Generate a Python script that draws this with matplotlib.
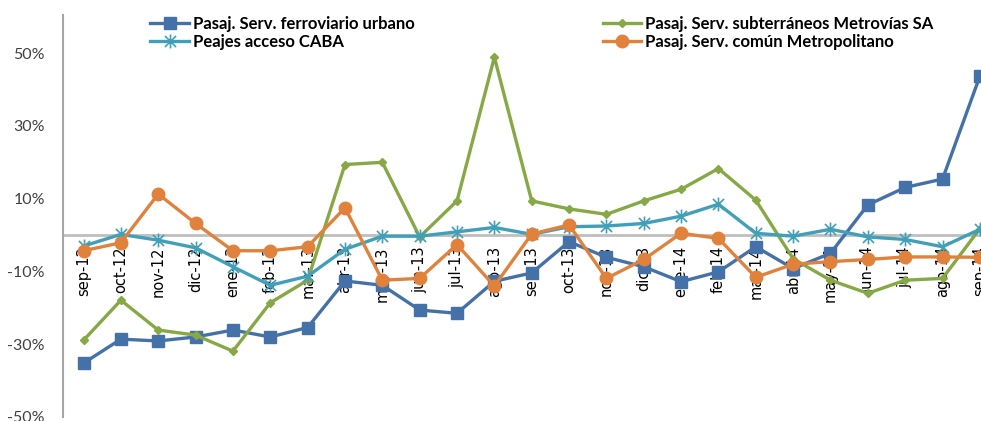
import numpy as np
import matplotlib
matplotlib.use('Agg')
from matplotlib import pyplot as plt
from matplotlib.path import Path

# meses sep-12 .. sep-14
meses = ['sep-12', 'oct-12', 'nov-12', 'dic-12', 'ene-13', 'feb-13', 'mar-13',
         'abr-13', 'may-13', 'jun-13', 'jul-13', 'ago-13', 'sep-13', 'oct-13',
         'nov-13', 'dic-13', 'ene-14', 'feb-14', 'mar-14', 'abr-14', 'may-14',
         'jun-14', 'jul-14', 'ago-14', 'sep-14']

# variacion interanual (%)
ferroviario = [-35.2, -28.6, -29.1, -28.0, -26.1, -28.0, -25.4, -12.6, -13.8,
               -20.6, -21.5, -12.7, -10.4, -1.8, -6.1, -8.7, -12.8, -10.1,
               -3.2, -9.2, -5.0, 8.3, 13.1, 15.4, 43.7]
subterraneos = [-28.9, -17.9, -26.1, -27.5, -31.9, -18.6, -12.4, 19.4, 20.0,
                -0.5, 9.4, 48.9, 9.4, 7.2, 5.7, 9.4, 12.6, 18.3, 9.6, -6.5,
                -12.4, -16.0, -12.4, -11.9, 1.8]
peajes = [-3.0, 0.2, -1.4, -3.5, -8.7, -13.8, -11.3, -3.9, -0.3, -0.3, 0.9,
          2.1, 0.2, 2.3, 2.5, 3.2, 5.2, 8.5, 0.5, -0.3, 1.6, -0.5, -1.2, -3.2,
          1.6]
comun = [-4.3, -2.1, 11.3, 3.2, -4.3, -4.3, -3.2, 7.5, -12.4, -11.9, -2.6,
         -14.0, 0.3, 2.8, -11.9, -6.7, 0.5, -0.9, -11.6, -8.0, -7.3, -6.7,
         -6.0, -6.0, -6.1]

nombres = ['Pasaj. Serv. ferroviario urbano',
           'Pasaj. Serv. subterráneos Metrovías SA',
           'Peajes acceso CABA',
           'Pasaj. Serv. común Metropolitano']

yticks = [-50, -30, -10, 10, 30, 50]

# marcador estrella (x + linea vertical)
estrella = Path([(0, -1), (0, 1), (-0.8, -0.8), (0.8, 0.8), (-0.8, 0.8), (0.8, -0.8)],
                [Path.MOVETO, Path.LINETO, Path.MOVETO, Path.LINETO, Path.MOVETO, Path.LINETO])

fig = plt.figure(figsize=(9.81, 4.21), dpi=100)
ax = fig.add_axes([63 / 981., 4 / 421., 918 / 981., 402 / 421.])

x = np.arange(len(meses))
l1, = ax.plot(x, ferroviario, color='#4471A8', lw=2.4, marker='s', ms=9,
              zorder=4, label=nombres[0])
l2, = ax.plot(x, subterraneos, color='#86A845', lw=2.4, marker='D', ms=4.5,
              zorder=5, label=nombres[1])
l3, = ax.plot(x, peajes, color='#41A0B8', lw=2.4, marker=estrella, ms=10,
              mew=1.2, zorder=6, label=nombres[2])
l4, = ax.plot(x, comun, color='#E0823C', lw=2.4, marker='o', ms=9,
              zorder=7, label=nombres[3])

ax.set_xlim(-0.55, 24.03)
ax.set_ylim(-50, 60.5)

ax.spines['top'].set_visible(False)
ax.spines['right'].set_visible(False)
ax.spines['bottom'].set_position(('data', 0))
ax.spines['bottom'].set_color('#BFBFBF')
ax.spines['bottom'].set_linewidth(2)
ax.spines['bottom'].set_zorder(1)
ax.spines['left'].set_color('#A6A6A6')
ax.spines['left'].set_linewidth(1.5)

ax.set_xticks(x)
ax.set_xticklabels(meses, rotation=90, family=['Liberation Sans Narrow', 'DejaVu Sans'],
                   fontsize=10.5, color='black')
ax.tick_params(axis='x', length=0, pad=8)

ax.set_yticks(yticks)
ax.set_yticklabels([str(v) + '%' for v in yticks], family=['Lato', 'DejaVu Sans'],
                   fontsize=11.5, color='#404040')
ax.tick_params(axis='y', length=0, pad=13)

leg = fig.legend([l1, l3, l2, l4], [nombres[0], nombres[2], nombres[1], nombres[3]],
                 ncol=2, loc='upper left', bbox_to_anchor=(142 / 981., 1 - 8 / 421.),
                 frameon=False, borderpad=0, handlelength=2.3, handletextpad=0.25,
                 columnspacing=11.3, labelspacing=0.1,
                 prop={'family': ['Lato', 'DejaVu Sans'], 'weight': 'bold', 'size': 12})

fig.savefig('out.png', dpi=100)
